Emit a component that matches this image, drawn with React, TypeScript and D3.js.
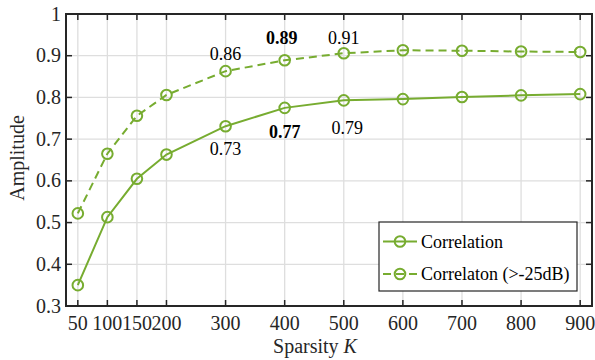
import { useRef, useEffect } from 'react';
import * as d3 from 'd3';

const sparsity = [50, 100, 150, 200, 300, 400, 500, 600, 700, 800, 900];
const correlation = [0.35, 0.513, 0.605, 0.663, 0.731, 0.775, 0.793, 0.796, 0.801, 0.805, 0.808];
const correlationNoise = [0.522, 0.665, 0.756, 0.806, 0.863, 0.889, 0.906, 0.913, 0.912, 0.91, 0.909];
const yTicks = [0.3, 0.4, 0.5, 0.6, 0.7, 0.8, 0.9, 1];
const seriesNames = ['Correlation', 'Correlaton (>-25dB)'];

// value labels placed in data coordinates (like MATLAB text())
const labelK = [300, 395, 500, 300, 400, 506];
const labelY = [0.89, 0.9276, 0.9276, 0.662, 0.702, 0.7125];
const labelText = ['0.86', '0.89', '0.91', '0.73', '0.77', '0.79'];
const labelBold = [false, true, false, false, true, false];

export default function App() {
    const ref = useRef<HTMLDivElement>(null);

    useEffect(() => {
        if (!ref.current) return;

        const w = 595;
        const h = 360;
        const m = { left: 66, right: 592, top: 14, bottom: 306 };
        const green = '#77ac30';
        const axisCol = '#262626';
        const font = '"Liberation Serif", "Times New Roman", serif';

        d3.select(ref.current).selectAll('*').remove();
        const svg = d3
            .select(ref.current)
            .append('svg')
            .attr('width', w)
            .attr('height', h)
            .style('font-family', font);

        const x = d3.scaleLinear().domain([30, 920]).range([m.left, m.right]);
        const y = d3.scaleLinear().domain([0.3, 1]).range([m.bottom, m.top]);

        // grid
        const grid = svg.append('g').attr('stroke', '#dedede').attr('stroke-width', 1.3);
        sparsity.forEach((k) => {
            grid.append('line').attr('x1', x(k)).attr('x2', x(k)).attr('y1', m.top).attr('y2', m.bottom);
        });
        yTicks.forEach((v) => {
            grid.append('line').attr('x1', m.left).attr('x2', m.right).attr('y1', y(v)).attr('y2', y(v));
        });

        // ticks (inward, all four sides)
        const tl = 6;
        const ticks = svg.append('g').attr('stroke', axisCol).attr('stroke-width', 1.5);
        sparsity.forEach((k) => {
            ticks.append('line').attr('x1', x(k)).attr('x2', x(k)).attr('y1', m.bottom).attr('y2', m.bottom - tl);
            ticks.append('line').attr('x1', x(k)).attr('x2', x(k)).attr('y1', m.top).attr('y2', m.top + tl);
        });
        yTicks.forEach((v) => {
            ticks.append('line').attr('x1', m.left).attr('x2', m.left + tl).attr('y1', y(v)).attr('y2', y(v));
            ticks.append('line').attr('x1', m.right).attr('x2', m.right - tl).attr('y1', y(v)).attr('y2', y(v));
        });

        // series
        const line = d3
            .line<number>()
            .x((_, i) => x(sparsity[i]))
            .y((d) => y(d));
        const series = [
            { vals: correlation, dash: null as string | null },
            { vals: correlationNoise, dash: '8,5' },
        ];
        series.forEach((s) => {
            svg.append('path')
                .attr('d', line(s.vals))
                .attr('fill', 'none')
                .attr('stroke', green)
                .attr('stroke-width', 2)
                .attr('stroke-dasharray', s.dash);
            svg.append('g')
                .selectAll('circle')
                .data(s.vals)
                .join('circle')
                .attr('cx', (_, i) => x(sparsity[i]))
                .attr('cy', (d) => y(d))
                .attr('r', 5.3)
                .attr('fill', 'none')
                .attr('stroke', green)
                .attr('stroke-width', 2);
        });

        // box
        svg.append('rect')
            .attr('x', m.left)
            .attr('y', m.top)
            .attr('width', m.right - m.left)
            .attr('height', m.bottom - m.top)
            .attr('fill', 'none')
            .attr('stroke', axisCol)
            .attr('stroke-width', 2);

        // tick labels
        svg.append('g')
            .selectAll('text')
            .data(sparsity)
            .join('text')
            .attr('x', (d) => x(d))
            .attr('y', m.bottom + 24)
            .attr('text-anchor', 'middle')
            .attr('font-size', 20)
            .attr('fill', axisCol)
            .text((d) => String(d));
        svg.append('g')
            .selectAll('text')
            .data(yTicks)
            .join('text')
            .attr('x', m.left - 5)
            .attr('y', (d) => y(d))
            .attr('dy', '0.33em')
            .attr('text-anchor', 'end')
            .attr('font-size', 20)
            .attr('fill', axisCol)
            .text((d) => (d === 1 ? '1' : d.toFixed(1)));

        // axis titles
        const xt = svg.append('text')
            .attr('x', 315)
            .attr('y', 353)
            .attr('text-anchor', 'middle')
            .attr('font-size', 20)
            .attr('fill', axisCol);
        xt.append('tspan').text('Sparsity ');
        xt.append('tspan').attr('font-style', 'italic').text('K');
        svg.append('text')
            .attr('transform', `translate(24,158) rotate(-90)`)
            .attr('text-anchor', 'middle')
            .attr('font-size', 20)
            .attr('fill', axisCol)
            .text('Amplitude');

        // value labels
        svg.append('g')
            .selectAll('text')
            .data(labelText)
            .join('text')
            .attr('x', (_, i) => x(labelK[i]))
            .attr('y', (_, i) => y(labelY[i]))
            .attr('text-anchor', 'middle')
            .attr('font-size', 18)
            .attr('font-weight', (_, i) => (labelBold[i] ? 'bold' : 'normal'))
            .attr('fill', '#000')
            .text((d) => d);

        // legend
        const lg = svg.append('g').attr('transform', 'translate(379,222)');
        lg.append('rect')
            .attr('width', 198)
            .attr('height', 69)
            .attr('fill', '#fff')
            .attr('stroke', axisCol)
            .attr('stroke-width', 1.2);
        seriesNames.forEach((name, i) => {
            const cy = 19.5 + i * 32.5;
            lg.append('line')
                .attr('x1', 4)
                .attr('x2', 38)
                .attr('y1', cy)
                .attr('y2', cy)
                .attr('stroke', green)
                .attr('stroke-width', 2)
                .attr('stroke-dasharray', series[i].dash);
            lg.append('circle')
                .attr('cx', 21)
                .attr('cy', cy)
                .attr('r', 5.3)
                .attr('fill', 'none')
                .attr('stroke', green)
                .attr('stroke-width', 2);
            lg.append('text')
                .attr('x', 42)
                .attr('y', cy + 6)
                .attr('font-size', 18)
                .attr('fill', '#000')
                .text(name);
        });
    }, []);

    return <div ref={ref} style={{ position: 'absolute', left: 0, top: 0 }} />;
}
